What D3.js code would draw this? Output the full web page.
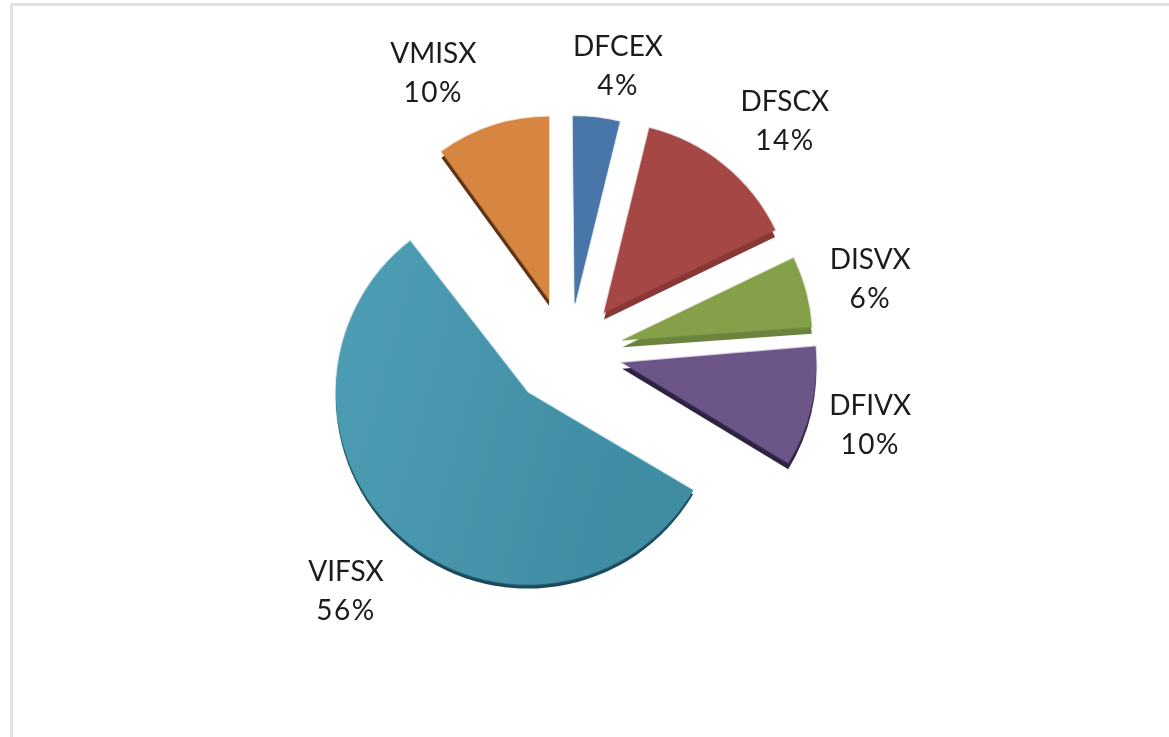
<!DOCTYPE html>
<html>
<head>
<meta charset="utf-8">
<script src="https://cdn.jsdelivr.net/npm/d3@7"></script>
<style>
  html, body { margin: 0; padding: 0; background: #fff; overflow: hidden; }
  svg { display: block; }
</style>
</head>
<body>
<div id="chart"></div>
<script>
// values
var funds = ["DFCEX", "DFSCX", "DISVX", "DFIVX", "VIFSX", "VMISX"];
var shares = [4, 14, 6, 10, 56, 10];

// styling per slice
var fills = ["#4a76a8", "#a54745", "#84a04a", "#6c5488", "url(#tealFill)", "#d68640"];
var rims = ["#4a76a8", "#a54745", "#84a04a", "#6c5488", "#4a9ab2", "#d68640"];
var shades = ["#3f6591", "#873735", "#6b8440", "#2f2342", "#1c4a5a", "#5a3212"];
var depths = [0, 7, 7, 6, 4, 6];

// the original is a tilted 3d pie, so each slice needs its own small correction
var sliceRadius = [187, 190, 190, 194, 192, 183];
var sliceTurn = [-0.6, -0.6, -0.5, -1.2, -1.8, 0];
var sliceShiftX = [-1, 0, 0, 0, -3.5, -3];
var sliceShiftY = [3, 0, -1, -6, -2.5, -3];

// label placement, polar around the pie centre: degrees added to the slice middle, then radius
var labelTurn = [2.4, 3, 0, -1.5, 0.3, -7.6];
var labelRadius = [294, 319, 311, 309, 324, 314];

var width = 1169, height = 737;
var cx = 569, cy = 355, explode = 55;

var svg = d3.select("#chart")
  .append("svg")
  .attr("width", width)
  .attr("height", height);

var defs = svg.append("defs");

var grad = defs.append("linearGradient")
  .attr("id", "tealFill")
  .attr("x1", "0%").attr("y1", "0%")
  .attr("x2", "100%").attr("y2", "30%");
grad.append("stop").attr("offset", "0%").attr("stop-color", "#4e9eb5");
grad.append("stop").attr("offset", "100%").attr("stop-color", "#3f8ca3");

// the reference is an enlarged screenshot, so everything is a little soft
defs.append("filter").attr("id", "soft")
  .append("feGaussianBlur").attr("stdDeviation", 0.6);

// frame of the screenshot, top and left only
svg.append("rect").attr("x", 10).attr("y", 3).attr("width", width - 10).attr("height", 3).attr("fill", "#e2e2e2");
svg.append("rect").attr("x", 10).attr("y", 3).attr("width", 3).attr("height", height - 3).attr("fill", "#e2e2e2");

var pie = d3.pie().sort(null);
var arcs = pie(shares);
var arc = d3.arc()
  .innerRadius(0)
  .outerRadius(function (d) { return sliceRadius[d.index]; });

function polar(deg, r) {
  var a = deg * Math.PI / 180;
  return [cx + r * Math.sin(a), cy - r * Math.cos(a)];
}
function midDeg(d) {
  return (d.startAngle + d.endAngle) / 2 * 180 / Math.PI;
}

var chart = svg.append("g").attr("filter", "url(#soft)");

var slices = chart.append("g")
  .selectAll("g")
  .data(arcs)
  .enter()
  .append("g")
  .attr("transform", function (d, i) {
    var p = polar(midDeg(d), explode);
    return "translate(" + (p[0] + sliceShiftX[i]) + "," + (p[1] + sliceShiftY[i]) + ")";
  });

// the dark side of the slice sits under it, moved down
slices.append("path")
  .attr("d", arc)
  .attr("transform", function (d, i) { return "translate(0," + depths[i] + ") rotate(" + sliceTurn[i] + ")"; })
  .attr("fill", function (d, i) { return shades[i]; });

slices.append("path")
  .attr("d", arc)
  .attr("transform", function (d, i) { return "rotate(" + sliceTurn[i] + ")"; })
  .attr("fill", function (d, i) { return fills[i]; })
  .attr("stroke", function (d, i) { return rims[i]; })
  .attr("stroke-opacity", 0.3)
  .attr("stroke-width", 2);

var labels = chart.append("g")
  .selectAll("text")
  .data(arcs)
  .enter()
  .append("text")
  .attr("transform", function (d, i) {
    var p = polar(midDeg(d) + labelTurn[i], labelRadius[i]);
    return "translate(" + p[0] + "," + p[1] + ")";
  })
  .attr("text-anchor", "middle")
  .style("font-family", "Lato, 'Open Sans', sans-serif")
  .style("font-size", "28px")
  .style("fill", "#1a1a1a");

labels.append("tspan")
  .attr("x", 0).attr("y", -9)
  .text(function (d, i) { return funds[i]; });
labels.append("tspan")
  .attr("x", 0).attr("y", 30)
  .style("letter-spacing", "1.5px")
  .text(function (d, i) { return shares[i] + "%"; });
</script>
</body>
</html>
